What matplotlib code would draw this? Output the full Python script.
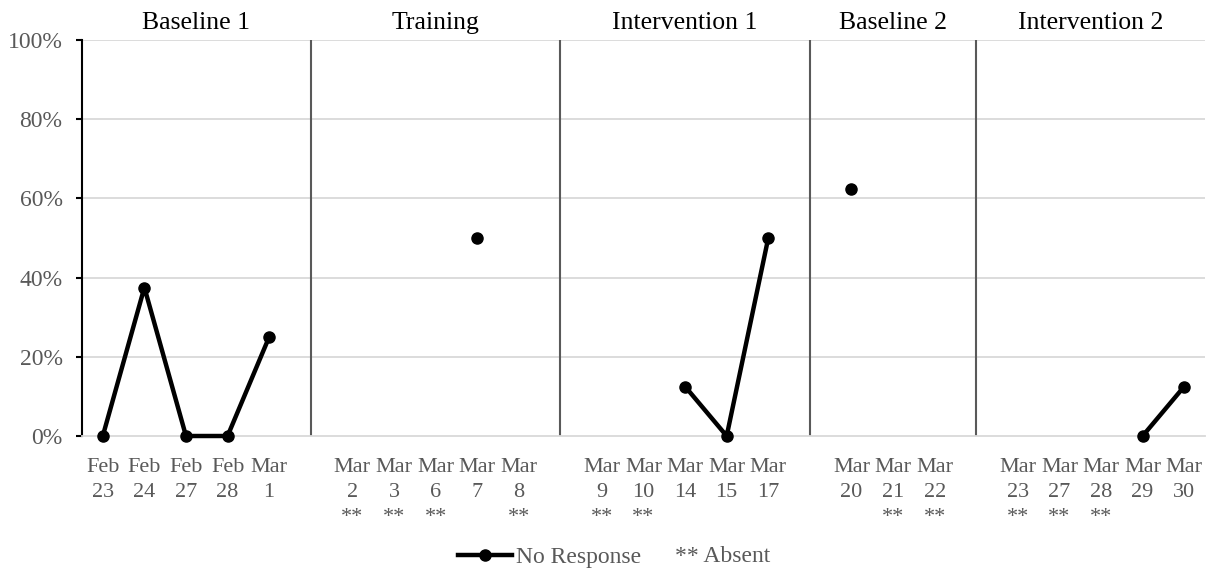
import numpy as np
import matplotlib.pyplot as plt
from matplotlib.lines import Line2D
from matplotlib.transforms import blended_transform_factory

plt.rcParams['font.family'] = ['Liberation Serif', 'DejaVu Serif']

# ---------------- DATA ----------------
phases = ["Baseline 1", "Training", "Intervention 1", "Baseline 2", "Intervention 2"]
phase_dates = [
    ["Feb 23", "Feb 24", "Feb 27", "Feb 28", "Mar 1"],
    ["Mar 2", "Mar 3", "Mar 6", "Mar 7", "Mar 8"],
    ["Mar 9", "Mar 10", "Mar 14", "Mar 15", "Mar 17"],
    ["Mar 20", "Mar 21", "Mar 22"],
    ["Mar 23", "Mar 27", "Mar 28", "Mar 29", "Mar 30"],
]
# percent of no response, None = absent / no data
phase_values = [
    [0, 37.5, 0, 0, 25],
    [None, None, None, 50, None],
    [None, None, 12.5, 0, 50],
    [62.5, None, None],
    [None, None, None, 0, 12.5],
]
absent = ["Mar 2", "Mar 3", "Mar 6", "Mar 8", "Mar 9", "Mar 10",
          "Mar 21", "Mar 22", "Mar 23", "Mar 27", "Mar 28"]
# --------------------------------------

# build category axis with an empty slot between phases
labels, values, gap_idx, bounds = [], [], [], []
start = -0.5
for i, (dates, vals) in enumerate(zip(phase_dates, phase_values)):
    for d, v in zip(dates, vals):
        m, day = d.split()
        lab = f"{m}\n{day}\n" + ("**" if d in absent else "")
        labels.append(lab)
        values.append(np.nan if v is None else v)
    if i < len(phase_dates) - 1:
        gap_idx.append(len(labels))
        bounds.append((start, len(labels)))
        start = len(labels)
        labels.append("")
        values.append(np.nan)
bounds.append((start, len(labels) - 0.5))

x = np.arange(len(labels))
values = np.array(values, dtype=float)

fig = plt.figure(figsize=(12.12, 5.82), dpi=100)
ax = fig.add_axes([82 / 1212, 1 - 436 / 582, (1205 - 82) / 1212, 396 / 582])

grid_c = "#d9d9d9"
txt_c = "#595959"

for yv in [20, 40, 60, 80, 100]:
    ax.axhline(yv, color=grid_c, lw=1.3, zorder=0)

for g in gap_idx:
    ax.axvline(g, color="#595959", lw=1.5, zorder=1)

ax.plot(x, values, color="black", lw=3.2, marker="o", markersize=8, zorder=3,
        clip_on=False)

ax.set_xlim(-0.5, len(labels) - 0.5)
ax.set_ylim(0, 100)
ax.set_yticks([0, 20, 40, 60, 80, 100])
ax.set_yticklabels([f"{v}%" for v in [0, 20, 40, 60, 80, 100]])
ax.set_xticks(x)
ax.set_xticklabels(labels, linespacing=1.42)

for s in ["top", "right"]:
    ax.spines[s].set_visible(False)
ax.spines["bottom"].set_color(grid_c)
ax.spines["bottom"].set_linewidth(1.3)
ax.spines["left"].set_color("black")
ax.spines["left"].set_linewidth(1.5)

ax.tick_params(axis="x", length=0, pad=16, labelsize=16, labelcolor=txt_c)
ax.tick_params(axis="y", length=4, width=1.5, pad=10, labelsize=17, labelcolor=txt_c)

trans = blended_transform_factory(ax.transData, ax.transAxes)
for name, (a, b) in zip(phases, bounds):
    ax.text((a + b) / 2, 1.015, name, transform=trans, ha="center", va="bottom",
            fontsize=18.5, color="black")

# legend
handle = Line2D([], [], color="black", lw=3.2, marker="o", markersize=8)
fig.legend([handle], ["No Response"], loc="center left",
           bbox_to_anchor=(458 / 1212, 1 - 557 / 582),
           frameon=False, fontsize=17, labelcolor=txt_c, handlelength=2.3,
           handletextpad=0.15, borderpad=0, borderaxespad=0)
fig.text(675 / 1212, 1 - 557 / 582, "** Absent", ha="left", va="center",
         fontsize=17, color=txt_c)

fig.savefig("out.png", dpi=100)
